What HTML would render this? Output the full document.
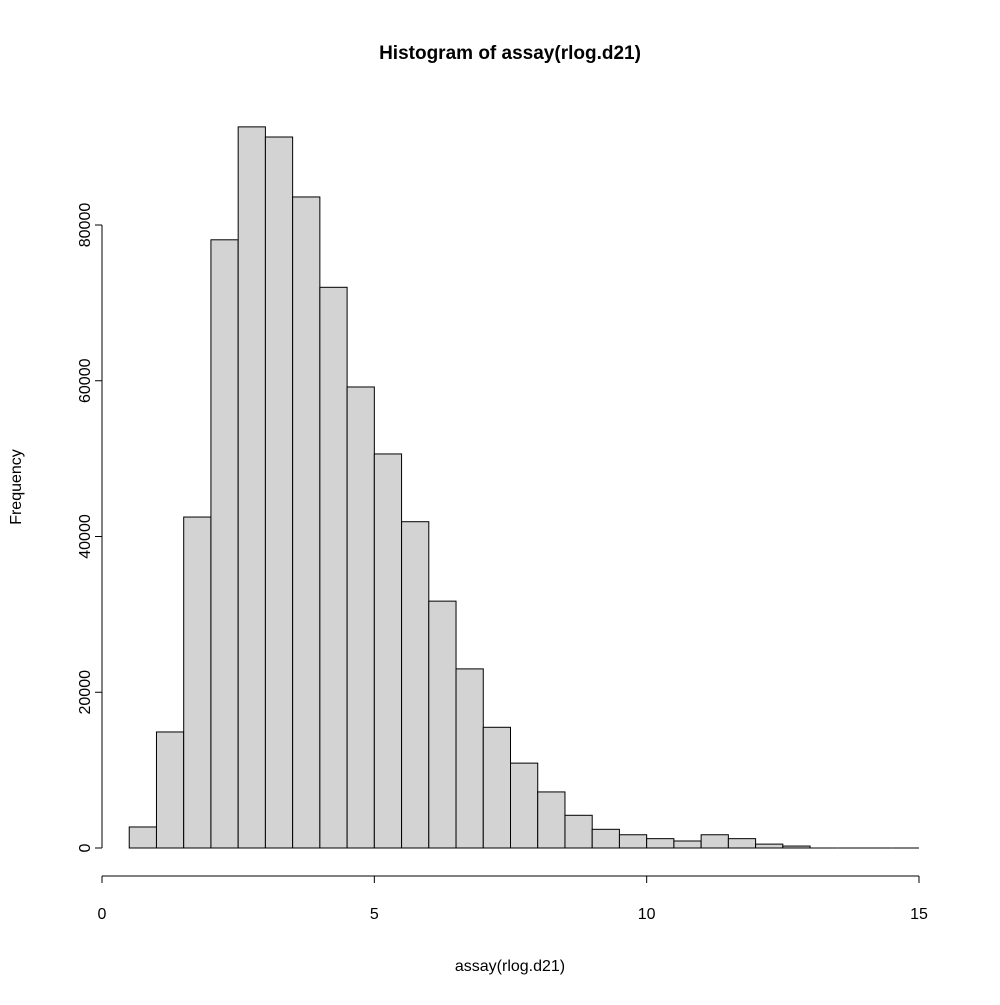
<!DOCTYPE html>
<html><head><meta charset="utf-8"><style>
html,body{margin:0;padding:0;background:#fff}
svg text{font-family:"Liberation Sans",Arial,sans-serif;fill:#000}
</style></head><body>
<svg width="1000" height="1000" viewBox="0 0 1000 1000" xmlns="http://www.w3.org/2000/svg">
<text x="510" y="59" font-size="19" font-weight="bold" text-anchor="middle">Histogram of assay(rlog.d21)</text>
<text x="510" y="971" font-size="16" text-anchor="middle">assay(rlog.d21)</text>
<text transform="translate(21,487) rotate(-90)" font-size="16" text-anchor="middle">Frequency</text>
<g id="bars"></g>
<g id="xaxis"></g>
<g id="yaxis"></g>
</svg>
<script>
const binStart = 0.5;
const binWidth = 0.5;
const counts = [2700,14900,42500,78100,92600,91300,83600,72000,59200,50600,41900,31700,23000,15500,10900,7200,4200,2400,1700,1200,900,1700,1200,500,250,0,0,0,0];
const xTicks = [0,5,10,15];
const yTicks = [0,20000,40000,60000,80000];
const NS="http://www.w3.org/2000/svg";
const xs=v=>102+(v-0)*(919-102)/15;
const ys=v=>848-v*(848-225)/80000;
function mk(t,a,p){const e=document.createElementNS(NS,t);for(const k in a)e.setAttribute(k,a[k]);p.appendChild(e);return e;}
const bars=document.getElementById('bars');
counts.forEach((c,i)=>{
  const x0=xs(binStart+i*binWidth),x1=xs(binStart+(i+1)*binWidth);
  if(c>0){
    const r=mk('rect',{x:x0,y:ys(c),width:x1-x0,height:ys(0)-ys(c),fill:'#d3d3d3',stroke:'#000','stroke-width':1},bars);
    
    
  } else {
    const l=mk('line',{x1:x0,x2:x1,y1:ys(0),y2:ys(0),stroke:'#000','stroke-width':1},bars);
    
    
  }
});
const xa=document.getElementById('xaxis');
mk('line',{x1:xs(xTicks[0]),x2:xs(xTicks[xTicks.length-1]),y1:876,y2:876,stroke:'#000'},xa);
xTicks.forEach(t=>{
  mk('line',{x1:xs(t),x2:xs(t),y1:876,y2:883,stroke:'#000'},xa);
  const tx=mk('text',{x:xs(t),y:919,'font-size':16,'text-anchor':'middle'},xa);tx.textContent=t;
  
  
});
const ya=document.getElementById('yaxis');
mk('line',{x1:102,x2:102,y1:ys(yTicks[0]),y2:ys(yTicks[yTicks.length-1]),stroke:'#000'},ya);
yTicks.forEach(t=>{
  mk('line',{x1:95,x2:102,y1:ys(t),y2:ys(t),stroke:'#000'},ya);
  const tx=mk('text',{transform:`translate(90,${ys(t)}) rotate(-90)`,'font-size':16,'text-anchor':'middle'},ya);tx.textContent=t;
  
  
});
</script>
</body></html>
